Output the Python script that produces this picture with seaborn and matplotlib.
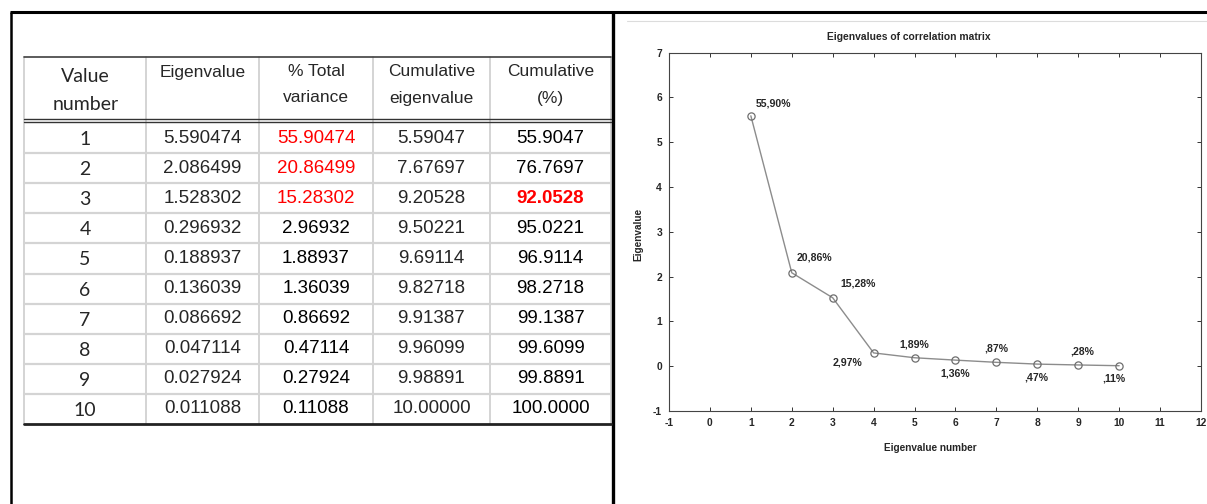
import numpy as np
import pandas as pd
import matplotlib
matplotlib.use("Agg")
import matplotlib.pyplot as plt
import seaborn as sns

# ---------------- data ----------------
value_number = [1, 2, 3, 4, 5, 6, 7, 8, 9, 10]
eigenvalue = [5.590474, 2.086499, 1.528302, 0.296932, 0.188937,
              0.136039, 0.086692, 0.047114, 0.027924, 0.011088]
eigen_str = ["5.590474", "2.086499", "1.528302", "0.296932", "0.188937",
             "0.136039", "0.086692", "0.047114", "0.027924", "0.011088"]
pct_total = ["55.90474", "20.86499", "15.28302", "2.96932", "1.88937",
             "1.36039", "0.86692", "0.47114", "0.27924", "0.11088"]
cum_eigen = ["5.59047", "7.67697", "9.20528", "9.50221", "9.69114",
             "9.82718", "9.91387", "9.96099", "9.98891", "10.00000"]
cum_pct = ["55.9047", "76.7697", "92.0528", "95.0221", "96.9114",
           "98.2718", "99.1387", "99.6099", "99.8891", "100.0000"]
pct_labels = ["55,90%", "20,86%", "15,28%", "2,97%", "1,89%",
              "1,36%", ",87%", ",47%", ",28%", ",11%"]
headers = [["Value", "number"], ["Eigenvalue"], ["% Total", "variance"],
           ["Cumulative", "eigenvalue"], ["Cumulative", "(%)"]]
x_ticks = list(range(-1, 13))
y_ticks = list(range(-1, 8))

df = pd.DataFrame({"num": value_number, "eig": eigenvalue})

sns.set_style("white")
plt.rcParams["font.family"] = ["Liberation Sans", "DejaVu Sans"]

W, H = 1207, 504
fig = plt.figure(figsize=(W / 100, H / 100), dpi=100)

# --------- overlay for frame + table (pixel coordinates) ---------
ov = fig.add_axes([0, 0, 1, 1])
ov.set_xlim(0, W)
ov.set_ylim(H, 0)
ov.axis("off")

# outer frame
ov.plot([10, W], [12, 12], color="black", lw=2.2, solid_capstyle="butt")
ov.plot([10.5, 10.5], [12, H], color="black", lw=1.8, solid_capstyle="butt")
ov.plot([613, 613], [12, H], color="black", lw=2.4, solid_capstyle="butt")
ov.plot([627, W], [20.5, 20.5], color="#dcdcdc", lw=0.8)

col_x = [24, 146, 259, 373, 490, 611]
head_top, head_bot = 57, 121
row_top, row_h = 123, 30.1
n_rows = len(value_number)
tab_bot = row_top + n_rows * row_h

grid_c = "#d4d4d4"
for cx in col_x:
    ov.plot([cx, cx], [head_top, tab_bot], color=grid_c, lw=1.4, zorder=1)
for i in range(1, n_rows):
    y = row_top + i * row_h
    ov.plot([col_x[0], col_x[-1]], [y, y], color=grid_c, lw=1.6, zorder=1)
ov.plot([col_x[0], col_x[-1]], [head_top, head_top], color="#404040", lw=1.2, zorder=2)
ov.plot([col_x[0], col_x[-1]], [119.3, 119.3], color="#333333", lw=1.0, zorder=2)
ov.plot([col_x[0], col_x[-1]], [122.3, 122.3], color="#333333", lw=1.0, zorder=2)
ov.plot([col_x[0], col_x[-1]], [tab_bot, tab_bot], color="#222222", lw=2.0, zorder=2)

centers = [(col_x[j] + col_x[j + 1]) / 2 for j in range(5)]

# header
ov.text(centers[0], 77, headers[0][0], ha="center", va="center",
        fontsize=14, family=["Lato", "DejaVu Sans"])
ov.text(centers[0] + 1, 105, headers[0][1], ha="center", va="center",
        fontsize=14, family=["Lato", "DejaVu Sans"])
for j in range(1, 5):
    for k, line in enumerate(headers[j]):
        ov.text(centers[j], 72 + k * 26, line, ha="center", va="center",
                fontsize=12.5)

# body
for i in range(n_rows):
    yc = row_top + (i + 0.5) * row_h
    ov.text(centers[0], yc + 1.5, str(value_number[i]), ha="center", va="center",
            fontsize=14, family=["Lato", "DejaVu Sans"])
    ov.text(centers[1], yc, eigen_str[i], ha="center", va="center", fontsize=13.5)
    ov.text(centers[2], yc, pct_total[i], ha="center", va="center", fontsize=13.5,
            color="#ff0000" if i < 3 else "black")
    ov.text(centers[3], yc, cum_eigen[i], ha="center", va="center", fontsize=13.5)
    ov.text(centers[4], yc, cum_pct[i], ha="center", va="center", fontsize=13.5,
            color="#ff0000" if i == 2 else "black",
            fontweight="bold" if i == 2 else "normal")

# ---------------- scree plot ----------------
l, r, t, b = 669, 1201, 52.7, 411
ax = fig.add_axes([l / W, 1 - b / H, (r - l) / W, (b - t) / H])
ax.set_facecolor("none")
sns.lineplot(data=df, x="num", y="eig", ax=ax, color="#8c8c8c", lw=1.0,
             marker="o", markersize=5.2, markerfacecolor="none",
             markeredgecolor="#6e6e6e", markeredgewidth=0.9)
ax.set_xlim(-1, 12)
ax.set_ylim(-1, 7)
ax.set_xticks(x_ticks)
ax.set_yticks(y_ticks)
ax.set_xticklabels([str(v) for v in x_ticks])
ax.set_yticklabels([str(v) for v in y_ticks])
ax.set_xlabel("")
ax.set_ylabel("")
ax.tick_params(direction="in", length=3, width=0.7, color="#333333",
               top=True, right=True, bottom=True, left=True,
               labelsize=7.4, pad=5)
for lab in ax.get_xticklabels() + ax.get_yticklabels():
    lab.set_fontweight("bold")
for sp in ax.spines.values():
    sp.set_color("#444444")
    sp.set_linewidth(0.8)
    sp.set_visible(True)

offsets = [(3.6, 8.6, "left"), (3.6, 10.8, "left"), (5.4, 10.1, "left"),
           (-7.9, -7.2, "right"), (0, 9.4, "center"), (0, -9.4, "center"),
           (0, 10.0, "center"), (-1, -9.4, "center"), (3, 10.0, "center"),
           (-4, -9.4, "center")]
for xv, yv, lab, (dx, dy, ha) in zip(value_number, eigenvalue, pct_labels, offsets):
    ax.annotate(lab, (xv, yv), xytext=(dx, dy), textcoords="offset points",
                ha=ha, va="center", fontsize=7.6, fontweight="bold")

fig.text(909 / W, 1 - 37.3 / H, "Eigenvalues of correlation matrix",
         ha="center", va="center", fontsize=7.4, fontweight="bold")
fig.text(638 / W, 1 - 234 / H, "Eigenvalue", rotation=90,
         ha="center", va="center", fontsize=7.2, fontweight="bold")
fig.text(930 / W, 1 - 448.3 / H, "Eigenvalue number",
         ha="center", va="center", fontsize=7.2, fontweight="bold")

fig.savefig("out.png", dpi=100)
